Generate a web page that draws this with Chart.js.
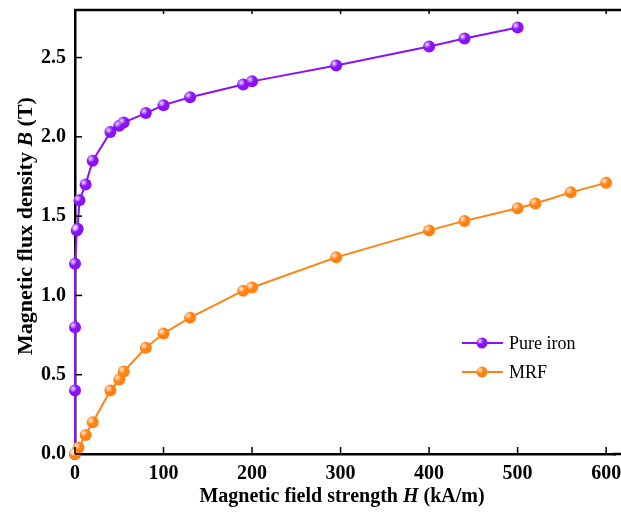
<!DOCTYPE html>
<html>
<head>
<meta charset="utf-8">
<script src="https://cdn.jsdelivr.net/npm/chart.js@4.4.1/dist/chart.umd.min.js"></script>
<style>
  html, body { margin: 0; padding: 0; background: #fff; }
  #wrap { width: 621px; height: 513px; position: relative; }
</style>
</head>
<body>
<div id="wrap"><canvas id="chart"></canvas></div>
<script>
// field strength H (kA/m) and flux density B (T)
const ironH = [0, 0, 0, 0, 2, 3, 5, 12, 20, 40, 50, 55, 80, 100, 130, 190, 200, 295, 400, 440, 500];
const ironB = [0, 0.4, 0.8, 1.2, 1.41, 1.42, 1.6, 1.7, 1.85, 2.03, 2.07, 2.09, 2.15, 2.2, 2.25, 2.33, 2.35, 2.45, 2.57, 2.62, 2.69];
const mrfH = [0, 4, 12, 20, 40, 50, 55, 80, 100, 130, 190, 200, 295, 400, 440, 500, 520, 560, 600];
const mrfB = [0, 0.04, 0.12, 0.2, 0.4, 0.47, 0.52, 0.67, 0.76, 0.86, 1.03, 1.05, 1.24, 1.41, 1.47, 1.55, 1.58, 1.65, 1.71];
const xTicks = [0, 100, 200, 300, 400, 500, 600];
const yTicks = [0, 0.5, 1.0, 1.5, 2.0, 2.5];
const seriesNames = ['Pure iron', 'MRF'];

const PURPLE = '#8a12f4';
const ORANGE = '#ff8212';
const SERIF = '"Liberation Serif", "Times New Roman", serif';

const toPts = (xs, ys) => xs.map((x, i) => ({ x, y: ys[i] }));

// inward ticks, frame lines, sphere highlights, legend and mixed-style axis titles
const decor = {
  id: 'decor',
  afterDatasetsDraw(chart) {
    const { ctx, chartArea: a, scales } = chart;
    ctx.save();
    // sphere highlights
    chart.data.datasets.forEach((ds, i) => {
      chart.getDatasetMeta(i).data.forEach(p => {
        const g = ctx.createRadialGradient(p.x - 2, p.y - 2, 0, p.x - 2, p.y - 2, 4);
        g.addColorStop(0, 'rgba(255,255,255,0.85)');
        g.addColorStop(1, 'rgba(255,255,255,0)');
        ctx.fillStyle = g;
        ctx.beginPath();
        ctx.arc(p.x - 2, p.y - 2, 4, 0, Math.PI * 2);
        ctx.fill();
      });
    });
    // frame runs off the right edge of the picture
    ctx.strokeStyle = '#000';
    ctx.lineWidth = 2.5;
    ctx.beginPath();
    ctx.moveTo(a.left - 1, a.top);
    ctx.lineTo(chart.width, a.top);
    ctx.moveTo(a.right - 2, a.bottom);
    ctx.lineTo(chart.width, a.bottom);
    ctx.stroke();
    ctx.lineWidth = 1.5;
    xTicks.forEach(v => {
      const px = scales.x.getPixelForValue(v);
      ctx.beginPath();
      ctx.moveTo(px, a.bottom); ctx.lineTo(px, a.bottom - 7);
      ctx.moveTo(px, a.top); ctx.lineTo(px, a.top + 4);
      ctx.stroke();
    });
    yTicks.forEach(v => {
      const py = scales.y.getPixelForValue(v);
      ctx.beginPath();
      ctx.moveTo(a.left, py); ctx.lineTo(a.left + 7, py);
      ctx.stroke();
    });

    // legend
    const legendItems = [
      { label: seriesNames[0], color: PURPLE, y: 343 },
      { label: seriesNames[1], color: ORANGE, y: 372 }
    ];
    legendItems.forEach(it => {
      ctx.strokeStyle = it.color;
      ctx.lineWidth = 2;
      ctx.beginPath();
      ctx.moveTo(462, it.y); ctx.lineTo(503, it.y);
      ctx.stroke();
      ctx.fillStyle = it.color;
      ctx.beginPath();
      ctx.arc(482, it.y, 5.5, 0, Math.PI * 2);
      ctx.fill();
      const g = ctx.createRadialGradient(480, it.y - 2, 0, 480, it.y - 2, 3.5);
      g.addColorStop(0, 'rgba(255,255,255,0.85)');
      g.addColorStop(1, 'rgba(255,255,255,0)');
      ctx.fillStyle = g;
      ctx.beginPath();
      ctx.arc(480, it.y - 2, 3.5, 0, Math.PI * 2);
      ctx.fill();
      ctx.fillStyle = '#000';
      ctx.font = '18px ' + SERIF;
      ctx.textBaseline = 'middle';
      ctx.textAlign = 'left';
      ctx.fillText(it.label, 509, it.y + 1);
    });

    // axis titles with italic variable
    const drawParts = (parts, cx, cy) => {
      const widths = parts.map(p => { ctx.font = p.f; return ctx.measureText(p.t).width; });
      const total = widths.reduce((s, w) => s + w, 0);
      let x = cx - total / 2;
      parts.forEach((p, i) => {
        ctx.font = p.f;
        ctx.fillText(p.t, x, cy);
        x += widths[i];
      });
    };
    ctx.fillStyle = '#000';
    ctx.textBaseline = 'middle';
    ctx.textAlign = 'left';
    const BX = 'bold 20px ' + SERIF, BXI = 'italic bold 20px ' + SERIF;
    drawParts([{ t: 'Magnetic field strength ', f: BX }, { t: 'H', f: BXI }, { t: ' (kA/m)', f: BX }], 342, 497);
    const BY = 'bold 22px ' + SERIF, BYI = 'italic bold 22px ' + SERIF;
    ctx.translate(26, 226);
    ctx.rotate(-Math.PI / 2);
    drawParts([{ t: 'Magnetic flux density ', f: BY }, { t: 'B', f: BYI }, { t: ' (T)', f: BY }], 0, 0);
    ctx.restore();
  }
};

new Chart(document.getElementById('chart'), {
  type: 'line',
  data: {
    datasets: [
      { label: seriesNames[0], data: toPts(ironH, ironB), borderColor: PURPLE, backgroundColor: PURPLE,
        borderWidth: 2, pointRadius: 6, pointBorderWidth: 0, tension: 0, order: 1, clip: false },
      { label: seriesNames[1], data: toPts(mrfH, mrfB), borderColor: ORANGE, backgroundColor: ORANGE,
        borderWidth: 2, pointRadius: 6, pointBorderWidth: 0, tension: 0, order: 0, clip: false }
    ]
  },
  options: {
    responsive: true,
    maintainAspectRatio: false,
    animation: false,
    layout: { padding: { top: 10, right: 0, left: 0, bottom: 0 } },
    plugins: { legend: { display: false }, tooltip: { enabled: false } },
    scales: {
      x: {
        type: 'linear', min: 0, max: 610,
        afterBuildTicks: s => { s.ticks = xTicks.map(v => ({ value: v })); },
        afterFit: s => { s.height = 59; s.paddingLeft = 0; s.paddingRight = 0; },
        grid: { display: true, drawOnChartArea: false, drawTicks: false },
        border: { display: true, color: '#000', width: 2.5 },
        ticks: { color: '#000', padding: 8, maxRotation: 0, font: { family: SERIF, size: 20, weight: 'bold' } }
      },
      y: {
        type: 'linear', min: 0, max: 2.8,
        afterBuildTicks: s => { s.ticks = yTicks.map(v => ({ value: v })); },
        afterFit: s => { s.width = 75; s.paddingTop = 0; s.paddingBottom = 0; },
        grid: { display: true, drawOnChartArea: false, drawTicks: false },
        border: { display: true, color: '#000', width: 2.5 },
        ticks: { color: '#000', padding: 9, callback: v => v.toFixed(1), font: { family: SERIF, size: 20, weight: 'bold' } }
      }
    }
  },
  plugins: [decor]
});
</script>
</body>
</html>
